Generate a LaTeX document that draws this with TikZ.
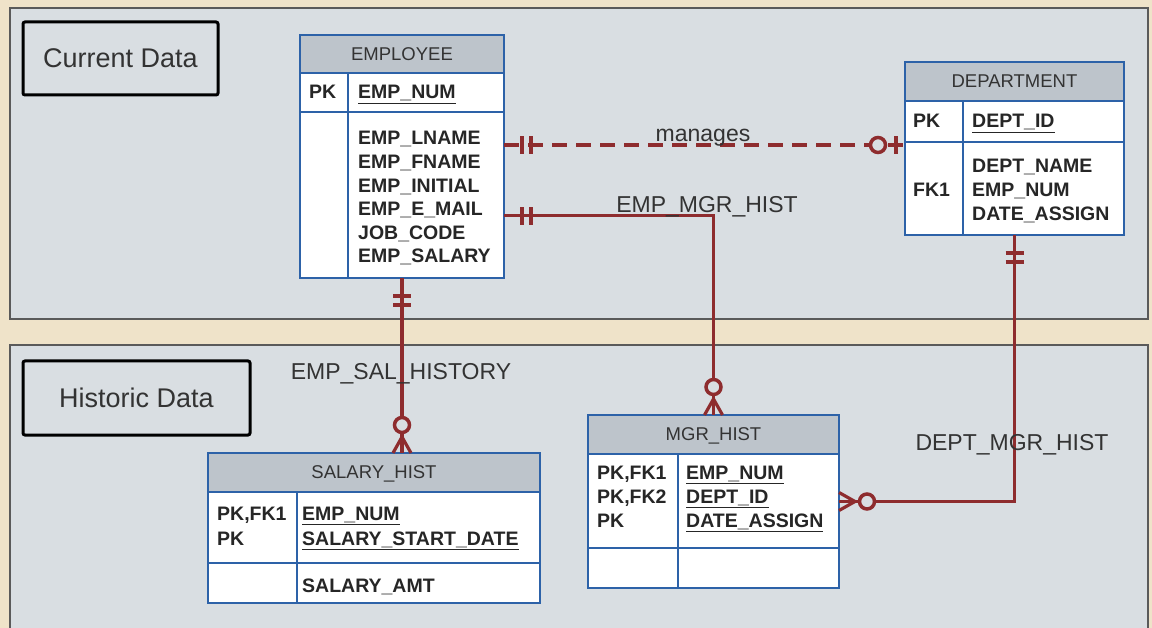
\documentclass[tikz,border=0pt]{standalone}
\usepackage{fontspec}
\setmainfont{Liberation Sans}
\usetikzlibrary{decorations.markings}

\definecolor{beige}{HTML}{EFE3C9}
\definecolor{panelgray}{HTML}{D9DEE2}
\definecolor{panelline}{HTML}{5A5A5A}
\definecolor{entblue}{HTML}{2D62A8}
\definecolor{hdrgray}{HTML}{BDC4CB}
\definecolor{relred}{HTML}{8E2C2E}
\definecolor{fldtext}{HTML}{262626}
\definecolor{labeltext}{HTML}{333333}

\tikzset{
  panel/.style={fill=panelgray, draw=panelline, line width=1.5pt},
  tagbox/.style={draw=black, line width=3pt, rounded corners=2pt, fill=panelgray,
    text=labeltext, font=\fontsize{27}{30}\selectfont},
  ent/.style={draw=entblue, line width=2.5pt, fill=white, anchor=north west,
    inner sep=0pt, outer sep=0pt},
  enthead/.style={draw=entblue, line width=2.5pt, fill=hdrgray, anchor=north,
    inner sep=0pt, outer sep=0pt, text depth=0pt, text=labeltext,
    font=\fontsize{18.5}{22}\selectfont},
  entline/.style={draw=entblue, line width=2pt},
  fld/.style={anchor=base west, inner sep=0pt, text=fldtext,
    font=\bfseries\fontsize{19.5}{24}\selectfont},
  rel/.style={color=relred, line width=3.2pt},
  rellabel/.style={anchor=base, inner sep=0pt, text=labeltext,
    font=\fontsize{23}{26}\selectfont},
  % crow's foot ends
  one start/.style={postaction={decorate, decoration={markings,
    mark=at position 18pt with {\draw[solid, line width=3.5pt] (0pt,-9pt) -- (0pt,9pt);},
    mark=at position 27pt with {\draw[solid, line width=3.5pt] (0pt,-9pt) -- (0pt,9pt);}}}},
  zero one end/.style={postaction={decorate, decoration={markings,
    mark=at position -27pt with {\draw[solid, line width=3.5pt, fill=panelgray] (0pt,0pt) circle (7.5pt);},
    mark=at position -9pt with {\draw[solid, line width=3.5pt] (0pt,-9pt) -- (0pt,9pt);}}}},
  zero many end/.style={postaction={decorate, decoration={markings,
    mark=at position -28pt with {\draw[solid, line width=3.5pt, fill=panelgray] (0pt,0pt) circle (7.5pt);},
    mark=at position -16pt with {\draw[solid, line width=3.2pt] (16pt,9pt) -- (0pt,0pt) -- (16pt,-9pt);}}}}
}

\begin{document}
\begin{tikzpicture}[x=1pt, y=-1pt]
\useasboundingbox (0,0) rectangle (1152,628);
\clip (0,0) rectangle (1152,628);
\fill[beige] (0,0) rectangle (1152,628);

% the two areas
\draw[panel] (10,8) rectangle (1148,319);
\draw[panel] (10,345) rectangle (1148,640);
\node[tagbox, minimum width=195pt, minimum height=73pt] (cur-tag) at (120.5,58.5) {Current Data};
\node[tagbox, minimum width=227pt, minimum height=74pt] (hist-tag) at (136.5,398) {Historic Data};

% EMPLOYEE
\node[ent, minimum width=204pt, minimum height=243pt] (emp) at (300,35) {};
\node[enthead, minimum width=204pt, minimum height=38pt] (emp-head) at (emp.north) {EMPLOYEE};
\draw[entline] (300,112) -- (504,112) (348,73) -- (348,278);
\node[fld] (emp-pk) at (309,99) {PK};
\node[fld] (emp-id) at (358,99) {\underline{EMP\_NUM}};
\foreach \f [count=\i] in {EMP\_LNAME, EMP\_FNAME, EMP\_INITIAL, EMP\_E\_MAIL, JOB\_CODE, EMP\_SALARY}
  \node[fld] (emp-a\i) at (358,121.4+23.6*\i) {\f};

% DEPARTMENT
\node[ent, minimum width=219pt, minimum height=173pt] (dept) at (905,62) {};
\node[enthead, minimum width=219pt, minimum height=39pt] (dept-head) at (dept.north) {DEPARTMENT};
\draw[entline] (905,142) -- (1124,142) (963,101) -- (963,235);
\node[fld] (dept-pk) at (913,128) {PK};
\node[fld] (dept-id) at (972,128) {\underline{DEPT\_ID}};
\node[fld] (dept-fk) at (913,197) {FK1};
\foreach \f [count=\i] in {DEPT\_NAME, EMP\_NUM, DATE\_ASSIGN}
  \node[fld] (dept-a\i) at (972,149+24*\i) {\f};

% SALARY_HIST
\node[ent, minimum width=332pt, minimum height=150pt] (sal) at (208,453) {};
\node[enthead, minimum width=332pt, minimum height=39pt] (sal-head) at (sal.north) {SALARY\_HIST};
\draw[entline] (208,563) -- (540,563) (297,492) -- (297,603);
\node[fld] (sal-k1) at (217,520) {PK,FK1};
\node[fld] (sal-k2) at (217,545) {PK};
\node[fld] (sal-id1) at (302,520) {\underline{EMP\_NUM}};
\node[fld] (sal-id2) at (302,545) {\underline{SALARY\_START\_DATE}};
\node[fld] (sal-a1) at (302,592) {SALARY\_AMT};

% MGR_HIST
\node[ent, minimum width=251pt, minimum height=173pt] (mgr) at (588,415) {};
\node[enthead, minimum width=251pt, minimum height=39pt] (mgr-head) at (mgr.north) {MGR\_HIST};
\draw[entline] (588,548) -- (839,548) (678,454) -- (678,588);
\foreach \k/\f [count=\i] in {PK{,}FK1/EMP\_NUM, PK{,}FK2/DEPT\_ID, PK/DATE\_ASSIGN} {
  \node[fld] (mgr-k\i) at (597,455+24*\i) {\k};
  \node[fld] (mgr-id\i) at (686,455+24*\i) {\underline{\f}};
}

% relationships
\draw[rel, dash pattern=on 15pt off 9pt, one start, zero one end]
  (emp.east |- emp-a1.base) -- (dept.west |- emp-a1.base);
\draw[rel, one start, zero many end] (emp.east |- emp-a4.base) -| (mgr.north);
\draw[rel, one start, zero many end] (emp.south) -- (emp.south |- sal.north);
\draw[rel, one start, zero many end] (dept.south) |- (mgr.east);

\node[rellabel] (lbl-man) at (703,142) {manages};
\node[rellabel] (lbl-empmgr) at (707,213) {EMP\_MGR\_HIST};
\node[rellabel] (lbl-empsal) at (401,380) {EMP\_SAL\_HISTORY};
\node[rellabel] (lbl-deptmgr) at (1012,450) {DEPT\_MGR\_HIST};
\end{tikzpicture}
\end{document}
